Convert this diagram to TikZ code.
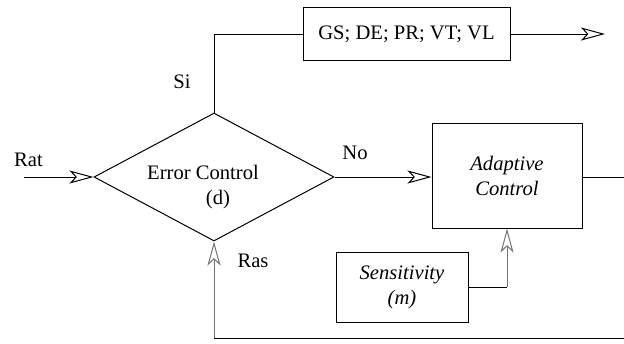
\documentclass[tikz,border=0pt]{standalone}
\usepackage{fontspec}
\setmainfont{Liberation Serif}
\usetikzlibrary{shapes.geometric,arrows.meta}

\begin{document}
\begin{tikzpicture}[>={Stealth[open,length=12pt,width=6.5pt,inset=3pt]},
                    x=0.5pt,y=-0.5pt,line width=0.5pt,
                    font=\fontsize{10.3}{12.5}\selectfont]
  \tikzstyle{block}=[rectangle,draw=black,text=black,align=center,inner sep=0pt]
  \tikzstyle{decision}=[diamond,draw=black,text=black,align=center,inner sep=0pt,
                        aspect=1.875,minimum width=120pt,minimum height=64pt]
  \tikzstyle{back}=[->,draw=black!55]

  \useasboundingbox (0,0) rectangle (624,343);

  \node[decision]      (E) at (214,177)
       [label={[align=center,xshift=-5.5pt,yshift=-5pt]center:Error Control\\\hspace*{15pt}(d)}] {};
  \node[block]         (G) at (406.5,34) [minimum width=103.5pt,minimum height=26.5pt] {GS; DE; PR; VT; VL};
  \node[block]         (A) at (507,175.5) [minimum width=75pt,minimum height=52.5pt] {\itshape Adaptive\\\itshape Control};
  \node[block]         (S) at (402,287) [minimum width=66pt,minimum height=35pt] {\itshape Sensitivity\\\itshape (m)};

  \node                (Rat) at (28.5,160) {Rat};
  \node                (Si)  at (182,82)   {Si};
  \node                (No)  at (355,153)  {No};
  \node                (Ras) at (253,261)  {Ras};

  \coordinate (in)  at (24,177);
  \coordinate (out) at (605,34);
  \coordinate (r1)  at (624,177);
  \coordinate (r2)  at (624,338);
  \coordinate (c1)  at (214,338);
  \coordinate (k)   at (S.east -| A.south);

  \draw[->] (in) -- (E.west);
  \draw (E.north) |- (G.west);
  \draw[->] (G.east) -- (out);
  \draw[->] (E.east) -- (E.east -| A.west);
  \draw (A.east |- r1) -- (r1);
  \draw (r2) -- (c1);
  \draw[back] (c1) -- (E.south);
  \draw (S.east) -- (k);
  \draw[back] (k) -- (A.south);
\end{tikzpicture}
\end{document}
